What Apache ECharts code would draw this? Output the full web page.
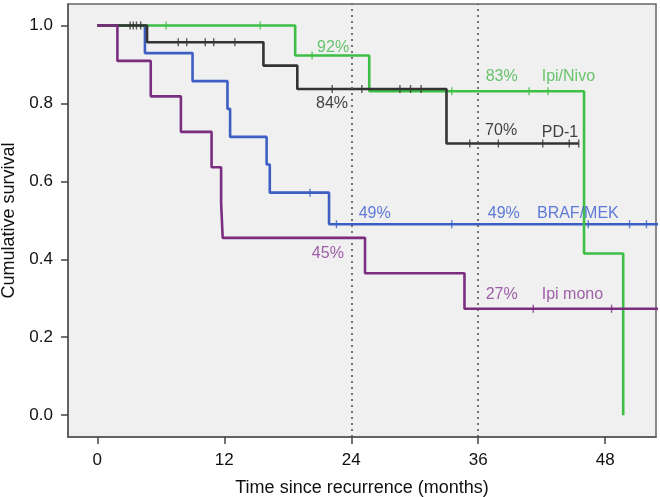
<!DOCTYPE html>
<html>
<head>
<meta charset="utf-8">
<script src="https://cdn.jsdelivr.net/npm/echarts@6/dist/echarts.min.js"></script>
<style>
html,body{margin:0;padding:0;background:#fff;}
#chart{width:660px;height:497px;}
</style>
</head>
<body>
<div id="chart"></div>
<script>
// ---- data (time in months, cumulative survival) ----
var xTicks = [0, 12, 24, 36, 48];
var yTicks = [0.0, 0.2, 0.4, 0.6, 0.8, 1.0];
var refLines = [24, 36];

var ipiNivoTimes = [0, 18.7, 25.7, 46.0, 49.7];
var ipiNivoSurv  = [1.0, 0.923, 0.831, 0.415, 0.0];
var ipiNivoCensor = [[6.5, 1.0], [15.4, 1.0], [20.3, 0.923], [33.5, 0.831], [40.8, 0.831], [42.6, 0.831]];

var pd1Times = [0, 4.7, 15.7, 18.9, 33.0, 45.5];
var pd1Surv  = [1.0, 0.957, 0.897, 0.837, 0.697, 0.697];
var pd1Censor = [[3.1, 1.0], [3.4, 1.0], [3.7, 1.0], [4.1, 1.0],
  [7.65, 0.957], [8.45, 0.957], [10.2, 0.957], [11.0, 0.957], [13.0, 0.957],
  [22.2, 0.837], [25.0, 0.837], [28.6, 0.837], [29.6, 0.837], [30.6, 0.837],
  [35.2, 0.697], [37.9, 0.697], [42.1, 0.697], [44.6, 0.697], [45.5, 0.697]];

var brafTimes = [0, 4.5, 9.0, 12.3, 12.55, 16.0, 16.3, 21.9, 53];
var brafSurv  = [1.0, 0.929, 0.857, 0.786, 0.714, 0.643, 0.571, 0.49, 0.49];
var brafCensor = [[20.1, 0.571], [22.6, 0.49], [33.5, 0.49], [46.4, 0.49], [50.3, 0.49], [51.9, 0.49]];

var ipiMonoTimes = [0, 1.9, 5.05, 7.9, 10.8, 11.7, 11.85, 25.3, 34.7, 53];
var ipiMonoSurv  = [1.0, 0.909, 0.818, 0.727, 0.636, 0.545, 0.455, 0.364, 0.273, 0.273];
var ipiMonoCensor = [[41.2, 0.273], [48.6, 0.273]];

// annotation texts
var annotTexts = ['92%', '84%', '83%', 'Ipi/Nivo', '70%', 'PD-1', '49%', '49%', 'BRAF/MEK', '45%', '27%', 'Ipi mono'];

function pairs(t, s) { return t.map(function (v, i) { return [v, s[i]]; }); }

var GREEN = '#3dbf45', GREEN_T = '#45b84a';
var BLACK = '#333333', BLACK_T = '#111111';
var BLUE = '#3d5fc4', BLUE_T = '#3a5bd0';
var PURPLE = '#7b2d80', PURPLE_T = '#8a3a96';
var FONT = '"Liberation Sans", Arial, Helvetica, sans-serif';

function kmSeries(name, t, s, color, z) {
  return {
    name: name, type: 'line', step: 'end', data: pairs(t, s),
    showSymbol: false, symbol: 'none', z: z,
    lineStyle: { color: color, width: 2.6 }, clip: true, silent: true
  };
}
function censorSeries(name, pts, color, z) {
  return {
    name: name + ' censored', type: 'scatter', data: pts, z: z,
    symbol: 'rect', symbolSize: [1.4, 8], itemStyle: { color: color }, silent: true
  };
}

// annotation placement (data coords) and styles
var annotPlace = [
  { c: [23.8, 0.944], a: 'right', col: GREEN_T },
  { c: [23.7, 0.800], a: 'right', col: BLACK_T },
  { c: [36.7, 0.868], a: 'left', col: GREEN_T },
  { c: [42.0, 0.868], a: 'left', col: GREEN_T },
  { c: [36.65, 0.731], a: 'left', col: BLACK_T },
  { c: [42.0, 0.724], a: 'left', col: BLACK_T },
  { c: [24.7, 0.518], a: 'left', col: BLUE_T },
  { c: [36.9, 0.518], a: 'left', col: BLUE_T },
  { c: [41.55, 0.518], a: 'left', col: BLUE_T },
  { c: [23.3, 0.415], a: 'right', col: PURPLE_T },
  { c: [36.7, 0.310], a: 'left', col: PURPLE_T },
  { c: [42.0, 0.310], a: 'left', col: PURPLE_T }
];
var annotData = annotTexts.map(function (txt, i) {
  var p = annotPlace[i];
  return {
    value: p.c,
    label: { show: true, formatter: txt, position: 'inside', align: p.a, verticalAlign: 'middle',
      color: p.col, fontSize: 16, fontFamily: FONT }
  };
});

var chart = echarts.init(document.getElementById('chart'), null, { renderer: 'canvas' });
chart.setOption({
  animation: false,
  backgroundColor: '#ffffff',
  grid: {
    left: 68, right: 4, top: 4, bottom: 60, show: true, containLabel: false,
    outerBoundsMode: 'none',
    backgroundColor: '#f0f0f0', borderColor: '#666666', borderWidth: 1.5
  },
  xAxis: {
    type: 'value', min: -2.77, max: 52.8,
    name: 'Time since recurrence (months)', nameLocation: 'middle', nameGap: 42,
    nameTextStyle: { fontSize: 18, color: '#111', fontFamily: FONT },
    axisLine: { show: true, onZero: false, lineStyle: { color: '#555', width: 1.5 } },
    axisTick: { show: true, length: 7, lineStyle: { color: '#444', width: 1.5 }, customValues: xTicks },
    axisLabel: { fontSize: 17, color: '#111', margin: 15, fontFamily: FONT, customValues: xTicks },
    splitLine: { show: false }
  },
  yAxis: {
    type: 'value', min: -0.056, max: 1.055,
    name: 'Cumulative survival', nameLocation: 'middle', nameGap: 50, nameMoveOverlap: false,
    nameTextStyle: { fontSize: 18, color: '#111', fontFamily: FONT },
    axisLine: { show: true, onZero: false, lineStyle: { color: '#555', width: 1.5 } },
    axisTick: { show: true, length: 7, lineStyle: { color: '#444', width: 1.5 }, customValues: yTicks },
    axisLabel: { fontSize: 17, color: '#111', margin: 15, fontFamily: FONT, customValues: yTicks,
      formatter: function (v) { return v.toFixed(1); } },
    splitLine: { show: false }
  },
  series: [
    {
      name: 'ref', type: 'line', data: [], silent: true, z: 1,
      markLine: {
        silent: true, symbol: 'none', label: { show: false },
        lineStyle: { type: [2, 4], color: '#555', width: 1.6 },
        data: refLines.map(function (v) { return { xAxis: v }; })
      }
    },
    kmSeries('BRAF/MEK', brafTimes, brafSurv, BLUE, 2),
    censorSeries('BRAF/MEK', brafCensor, BLUE, 2),
    kmSeries('Ipi/Nivo', ipiNivoTimes, ipiNivoSurv, GREEN, 3),
    censorSeries('Ipi/Nivo', ipiNivoCensor, GREEN, 3),
    kmSeries('PD-1', pd1Times, pd1Surv, BLACK, 4),
    censorSeries('PD-1', pd1Censor, BLACK, 4),
    kmSeries('Ipi mono', ipiMonoTimes, ipiMonoSurv, PURPLE, 5),
    censorSeries('Ipi mono', ipiMonoCensor, PURPLE, 5),
    {
      name: 'annotations', type: 'scatter', symbolSize: 0, z: 6, silent: true,
      data: annotData
    }
  ]
});
</script>
</body>
</html>
